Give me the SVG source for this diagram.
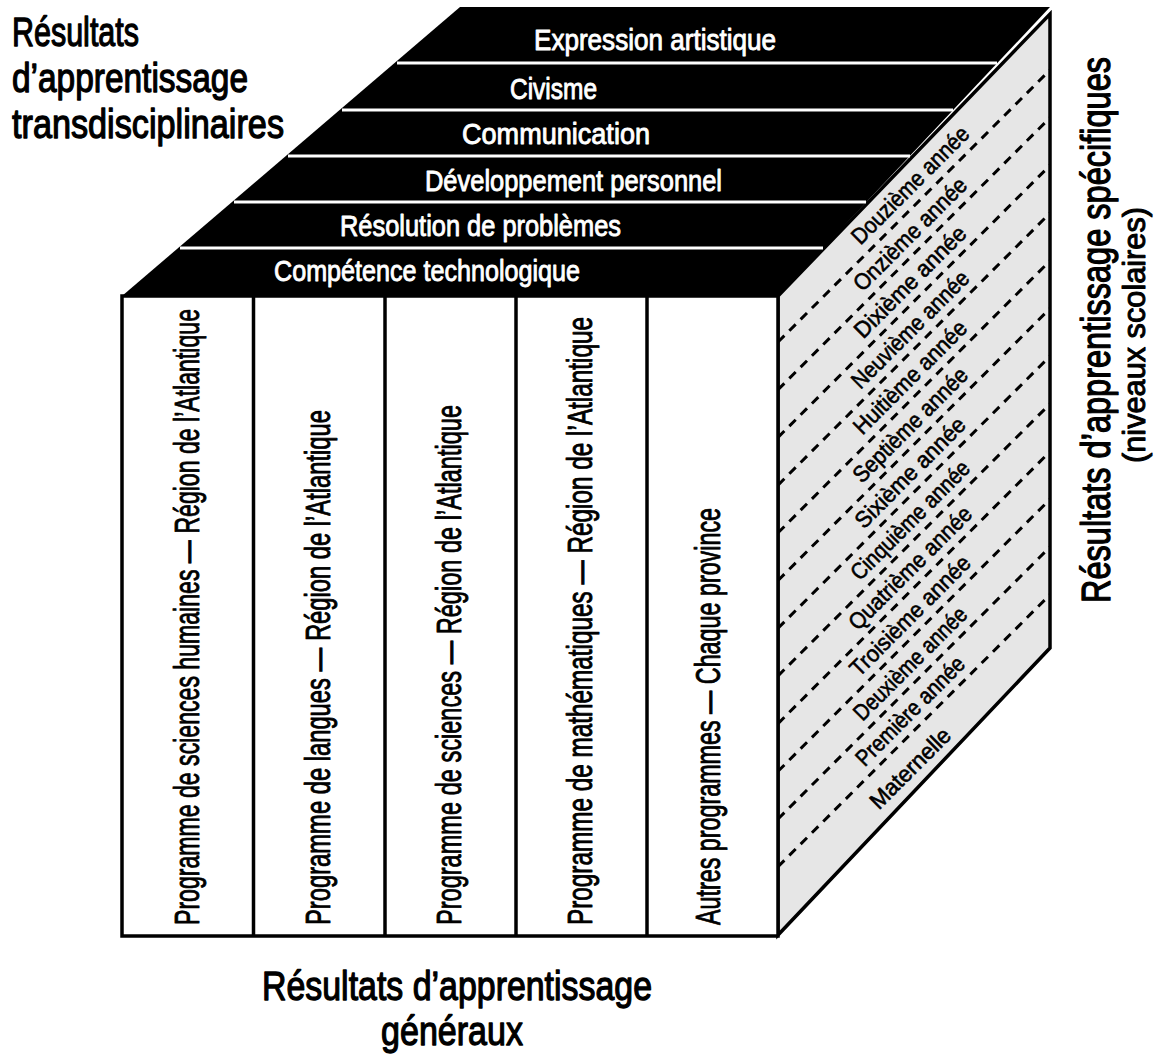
<svg xmlns="http://www.w3.org/2000/svg" width="1167" height="1061" viewBox="0 0 1167 1061">
<style>
text{font-family:"Liberation Sans Narrow","Liberation Sans",Arial,sans-serif;stroke-linejoin:round;}
.title{font-size:41px;fill:#000;stroke:#000;stroke-width:1.3;}
.sub{font-size:31px;fill:#000;stroke:#000;stroke-width:1;}
.top{font-size:29px;fill:#fff;stroke:#fff;stroke-width:0.9;text-anchor:middle;}
.col{font-size:35px;fill:#000;stroke:#000;stroke-width:0.9;}
.grade{font-size:23px;fill:#000;stroke:#000;stroke-width:0.6;text-anchor:middle;}
.wl{stroke:#fff;stroke-width:3;}
.dash{stroke:#000;stroke-width:3;stroke-dasharray:9 7;fill:none;}
.edge{stroke:#000;stroke-width:3.5;stroke-linejoin:miter;}
</style>
<defs>
<clipPath id="rf"><polygon points="778,296 1050,14 1050,648 778,935"/></clipPath>
</defs>
<rect width="1167" height="1061" fill="#fff"/>

<g id="right-face">
<polygon class="edge" points="778,296 1050,14 1050,648 778,935" fill="#e6e6e6"/>
<g clip-path="url(#rf)">
<line class="dash" x1="778" y1="342" x2="1050" y2="70"/>
<line class="dash" x1="778" y1="389.7" x2="1050" y2="117.7"/>
<line class="dash" x1="778" y1="437.4" x2="1050" y2="165.4"/>
<line class="dash" x1="778" y1="485.1" x2="1050" y2="213.1"/>
<line class="dash" x1="778" y1="532.8" x2="1050" y2="260.8"/>
<line class="dash" x1="778" y1="580.5" x2="1050" y2="308.5"/>
<line class="dash" x1="778" y1="628.2" x2="1050" y2="356.2"/>
<line class="dash" x1="778" y1="675.9" x2="1050" y2="403.9"/>
<line class="dash" x1="778" y1="723.6" x2="1050" y2="451.6"/>
<line class="dash" x1="778" y1="771.3" x2="1050" y2="499.3"/>
<line class="dash" x1="778" y1="819" x2="1050" y2="547"/>
<line class="dash" x1="778" y1="866.7" x2="1050" y2="594.7"/>
</g>
<g id="grades">
<text class="grade" transform="translate(910 185) rotate(-45)" y="8" textLength="156" lengthAdjust="spacingAndGlyphs">Douzième année</text>
<text class="grade" transform="translate(910 233.9) rotate(-45)" y="8" textLength="150" lengthAdjust="spacingAndGlyphs">Onzième année</text>
<text class="grade" transform="translate(910 281.6) rotate(-45)" y="8" textLength="148" lengthAdjust="spacingAndGlyphs">Dixième année</text>
<text class="grade" transform="translate(910 329.3) rotate(-45)" y="8" textLength="156" lengthAdjust="spacingAndGlyphs">Neuvième année</text>
<text class="grade" transform="translate(910 377) rotate(-45)" y="8" textLength="150" lengthAdjust="spacingAndGlyphs">Huitième année</text>
<text class="grade" transform="translate(910 424.7) rotate(-45)" y="8" textLength="152" lengthAdjust="spacingAndGlyphs">Septième année</text>
<text class="grade" transform="translate(910 472.4) rotate(-45)" y="8" textLength="146" lengthAdjust="spacingAndGlyphs">Sixième année</text>
<text class="grade" transform="translate(910 520.1) rotate(-45)" y="8" textLength="158" lengthAdjust="spacingAndGlyphs">Cinquième année</text>
<text class="grade" transform="translate(910 567.8) rotate(-45)" y="8" textLength="164" lengthAdjust="spacingAndGlyphs">Quatrième année</text>
<text class="grade" transform="translate(910 615.5) rotate(-45)" y="8" textLength="160" lengthAdjust="spacingAndGlyphs">Troisième année</text>
<text class="grade" transform="translate(910 663.2) rotate(-45)" y="8" textLength="150" lengthAdjust="spacingAndGlyphs">Deuxième année</text>
<text class="grade" transform="translate(910 710.9) rotate(-45)" y="8" textLength="144" lengthAdjust="spacingAndGlyphs">Première année</text>
<text class="grade" transform="translate(910 768) rotate(-45)" y="8" textLength="104" lengthAdjust="spacingAndGlyphs">Maternelle</text>
</g>
</g>

<g id="top-face">
<polygon points="122,296 460,7 1050,7 778,296" fill="#000"/>
<line class="wl" x1="397" y1="63" x2="997" y2="63"/>
<line class="wl" x1="342" y1="110" x2="953" y2="110"/>
<line class="wl" x1="288" y1="156" x2="910" y2="156"/>
<line class="wl" x1="234" y1="202" x2="866" y2="202"/>
<line class="wl" x1="180" y1="248" x2="823" y2="248"/>
<text class="top" x="655" y="50" textLength="242" lengthAdjust="spacingAndGlyphs">Expression artistique</text>
<text class="top" x="553.5" y="99" textLength="87" lengthAdjust="spacingAndGlyphs">Civisme</text>
<text class="top" x="556" y="144" textLength="188" lengthAdjust="spacingAndGlyphs">Communication</text>
<text class="top" x="573.5" y="191" textLength="297" lengthAdjust="spacingAndGlyphs">Développement personnel</text>
<text class="top" x="480.5" y="236" textLength="281" lengthAdjust="spacingAndGlyphs">Résolution de problèmes</text>
<text class="top" x="427" y="281" textLength="306" lengthAdjust="spacingAndGlyphs">Compétence technologique</text>
</g>

<g id="front-face">
<rect class="edge" x="122" y="296" width="656" height="640" fill="#fff"/>
<line class="edge" x1="253.5" y1="296" x2="253.5" y2="936"/>
<line class="edge" x1="385" y1="296" x2="385" y2="936"/>
<line class="edge" x1="516" y1="296" x2="516" y2="936"/>
<line class="edge" x1="647" y1="296" x2="647" y2="936"/>
<g id="col1"><text class="col" transform="translate(199 925) rotate(-90)" textLength="616" lengthAdjust="spacingAndGlyphs">Programme de sciences humaines — Région de l’Atlantique</text></g>
<g id="col2"><text class="col" transform="translate(330 925) rotate(-90)" textLength="515" lengthAdjust="spacingAndGlyphs">Programme de langues — Région de l’Atlantique</text></g>
<g id="col3"><text class="col" transform="translate(461 925) rotate(-90)" textLength="520" lengthAdjust="spacingAndGlyphs">Programme de sciences — Région de l’Atlantique</text></g>
<g id="col4"><text class="col" transform="translate(592 925) rotate(-90)" textLength="608" lengthAdjust="spacingAndGlyphs">Programme de mathématiques — Région de l’Atlantique</text></g>
<g id="col5"><text class="col" transform="translate(720 925) rotate(-90)" textLength="417" lengthAdjust="spacingAndGlyphs">Autres programmes — Chaque province</text></g>
</g>

<g id="title-transdisciplinaires">
<text class="title" x="12" y="46" textLength="127" lengthAdjust="spacingAndGlyphs">Résultats</text>
<text class="title" x="12" y="92" textLength="236" lengthAdjust="spacingAndGlyphs">d’apprentissage</text>
<text class="title" x="12" y="138" textLength="272" lengthAdjust="spacingAndGlyphs">transdisciplinaires</text>
</g>

<g id="title-generaux">
<text class="title" x="262" y="1000" textLength="390" lengthAdjust="spacingAndGlyphs">Résultats d’apprentissage</text>
<text class="title" x="381" y="1045" textLength="142" lengthAdjust="spacingAndGlyphs">généraux</text>
</g>

<g id="title-specifiques">
<text class="title" transform="translate(1110 603) rotate(-90)" textLength="546" lengthAdjust="spacingAndGlyphs">Résultats d’apprentissage spécifiques</text>
<text class="sub" transform="translate(1145 463) rotate(-90)" textLength="256" lengthAdjust="spacingAndGlyphs">(niveaux scolaires)</text>
</g>

<g id="connectors"></g>
</svg>
